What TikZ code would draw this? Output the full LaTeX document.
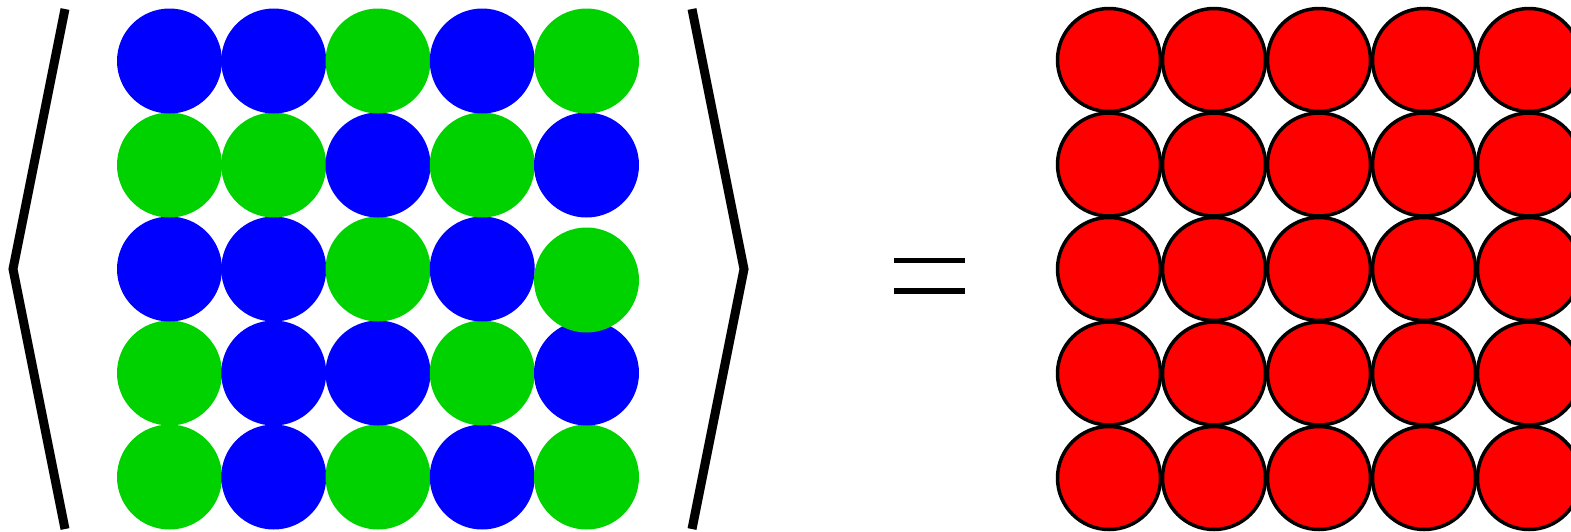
\documentclass[tikz,border=0pt]{standalone}
\usepackage{xcolor}
\usepackage{tikz}

\definecolor{ballblue}{RGB}{0,0,255}
\definecolor{ballgreen}{RGB}{0,210,0}
\definecolor{ballred}{RGB}{255,0,0}

\begin{document}
\begin{tikzpicture}[
  x=1pt, y=-1pt,
  ball/.style={circle, minimum size=105pt, inner sep=0pt, draw=none},
  redball/.style={circle, minimum size=103pt, inner sep=0pt, draw=black, fill=ballred, line width=3.5pt},
  bracket/.style={draw=black, line width=9pt, line join=miter},
  eqbar/.style={draw=black, line width=5.5pt}
]
\useasboundingbox (0,0) rectangle (1571,531);
% left grid, drawn from the bottom row up
\foreach \cols [count=\j] in {{ballgreen,ballblue,ballgreen,ballblue,ballgreen},
                              {ballgreen,ballblue,ballblue,ballgreen,ballblue},
                              {ballblue,ballblue,ballgreen,ballblue},
                              {ballgreen,ballgreen,ballblue,ballgreen,ballblue},
                              {ballblue,ballblue,ballgreen,ballblue,ballgreen}}
  \foreach \c [count=\i] in \cols
    \node[ball, fill=\c] (l-\j-\i) at ({169.5+104.25*(\i-1)}, {477-104*(\j-1)}) {};
\node[ball, fill=ballgreen] (l-3-5) at (586.5,280) {};
% brackets
\coordinate (lb-top) at (65,9);
\coordinate (lb-tip) at (13,269);
\coordinate (lb-bot) at (65,529);
\coordinate (rb-top) at (692,9);
\coordinate (rb-tip) at (744,269);
\coordinate (rb-bot) at (692,529);
\draw[bracket] (lb-top) -- (lb-tip) -- (lb-bot);
\draw[bracket] (rb-top) -- (rb-tip) -- (rb-bot);
% equals sign
\coordinate (eq-a) at (894,260.5);
\coordinate (eq-b) at (965,260.5);
\coordinate (eq-c) at (894,291);
\coordinate (eq-d) at (965,291);
\draw[eqbar] (eq-a) -- (eq-b);
\draw[eqbar] (eq-c) -- (eq-d);
% right grid
\foreach \j in {1,...,5}
  \foreach \i in {1,...,5}
    \node[redball] (r-\j-\i) at ({1109+105*(\i-1)}, {60+104.5*(\j-1)}) {};
\end{tikzpicture}
\end{document}
